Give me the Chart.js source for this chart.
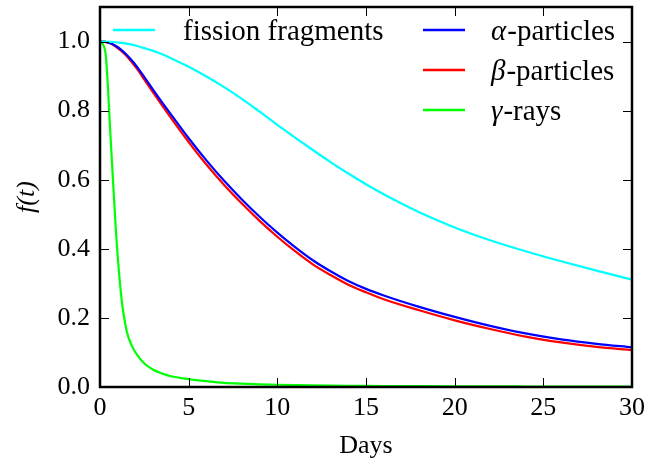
<!DOCTYPE html>
<html>
<head>
<meta charset="utf-8">
<script src="https://cdn.jsdelivr.net/npm/chart.js@4"></script>
<style>
  body { margin: 0; background: #fff; }
</style>
</head>
<body>
<canvas id="decay" width="660" height="463"></canvas>
<script>
// values
const days = [0, 0.3, 0.6, 0.9, 1.2, 1.5, 1.8, 2.1, 2.5, 3, 3.5, 4, 5, 6, 7, 8, 9, 10, 11, 12, 13, 14, 15, 16, 18, 20, 22, 24, 26, 28, 30];
const fission = [1.0, 1.0, 0.999, 0.998, 0.996, 0.994, 0.991, 0.987, 0.981, 0.973, 0.963, 0.952, 0.927, 0.899, 0.868, 0.834, 0.797, 0.759, 0.722, 0.686, 0.651, 0.618, 0.587, 0.558, 0.506, 0.462, 0.425, 0.393, 0.364, 0.337, 0.311];
const alpha = [1.0, 0.999, 0.995, 0.987, 0.976, 0.962, 0.945, 0.926, 0.897, 0.86, 0.824, 0.789, 0.72, 0.656, 0.597, 0.543, 0.493, 0.447, 0.405, 0.367, 0.335, 0.307, 0.284, 0.265, 0.232, 0.203, 0.177, 0.155, 0.138, 0.125, 0.115];
const beta = [1.0, 0.999, 0.994, 0.985, 0.973, 0.958, 0.94, 0.92, 0.89, 0.852, 0.815, 0.779, 0.709, 0.644, 0.585, 0.531, 0.481, 0.435, 0.393, 0.355, 0.324, 0.296, 0.274, 0.254, 0.222, 0.193, 0.168, 0.146, 0.129, 0.116, 0.107];
const gamma = [1.0, 0.97, 0.72, 0.45, 0.262, 0.163, 0.119, 0.092, 0.068, 0.05, 0.039, 0.031, 0.023, 0.017, 0.012, 0.0095, 0.0078, 0.0065, 0.0055, 0.0047, 0.0041, 0.0036, 0.0032, 0.0029, 0.0024, 0.002, 0.0017, 0.0015, 0.0013, 0.0011, 0.001];
const labels = ['fission fragments', 'α-particles', 'β-particles', 'γ-rays'];
const colors = ['#00ffff', '#0000ff', '#ff0000', '#00ff00'];
const xTicks = [0, 5, 10, 15, 20, 25, 30];
const yTicks = [0, 0.2, 0.4, 0.6, 0.8, 1.0];

const FONT = "'Liberation Serif', 'DejaVu Serif', serif";

function pts(vals) {
  return days.map((d, i) => ({ x: d, y: vals[i] }));
}

// inward ticks on all four sides plus the black frame
const framePlugin = {
  id: 'frame',
  afterDatasetsDraw(chart) {
    const { ctx, chartArea: a, scales } = chart;
    const len = 9;
    ctx.save();
    ctx.strokeStyle = '#000';
    ctx.lineWidth = 1;
    ctx.beginPath();
    xTicks.forEach(v => {
      const x = Math.round(scales.x.getPixelForValue(v)) + 0.5;
      ctx.moveTo(x, a.bottom); ctx.lineTo(x, a.bottom - len);
      ctx.moveTo(x, a.top); ctx.lineTo(x, a.top + len);
    });
    yTicks.forEach(v => {
      const y = Math.round(scales.y.getPixelForValue(v)) + 0.5;
      ctx.moveTo(a.left, y); ctx.lineTo(a.left + len, y);
      ctx.moveTo(a.right, y); ctx.lineTo(a.right - len, y);
    });
    ctx.stroke();
    ctx.lineWidth = 2.5;
    ctx.strokeRect(a.left, a.top, a.right - a.left, a.bottom - a.top);
    ctx.restore();
  }
};

// legend: one entry in the first column, three in the second, no box
const legendPlugin = {
  id: 'twoColLegend',
  afterDraw(chart) {
    const { ctx } = chart;
    const slots = [
      { lx: 113, tx: 183, y: 30 },
      { lx: 423, tx: 491, y: 30 },
      { lx: 423, tx: 491, y: 70 },
      { lx: 423, tx: 491, y: 110 }
    ];
    ctx.save();
    ctx.textBaseline = 'middle';
    chart.data.datasets.forEach((ds, i) => {
      const s = slots[i];
      ctx.strokeStyle = ds.borderColor;
      ctx.lineWidth = 2.5;
      ctx.beginPath();
      ctx.moveTo(s.lx, s.y);
      ctx.lineTo(s.lx + 42, s.y);
      ctx.stroke();
      ctx.fillStyle = '#000';
      let x = s.tx;
      let text = ds.label;
      if (/^[αβγ]/.test(text)) {
        ctx.font = 'italic 29px ' + FONT;
        ctx.fillText(text[0], x, s.y + 2);
        x += ctx.measureText(text[0]).width + 1;
        text = text.slice(1);
      }
      ctx.font = '29px ' + FONT;
      ctx.fillText(text, x, s.y + 2);
    });
    ctx.restore();
  }
};

const datasets = [fission, alpha, beta, gamma].map((vals, i) => ({
  label: labels[i],
  data: pts(vals),
  borderColor: colors[i],
  backgroundColor: colors[i],
  borderWidth: 2.2,
  pointRadius: 0,
  fill: false,
  cubicInterpolationMode: 'monotone'
}));

new Chart(document.getElementById('decay'), {
  type: 'line',
  data: { datasets },
  options: {
    responsive: false,
    animation: false,
    devicePixelRatio: 1,
    layout: { padding: { top: 7, right: 28, left: 0, bottom: 0 } },
    plugins: { legend: { display: false }, tooltip: { enabled: false } },
    scales: {
      x: {
        type: 'linear',
        min: 0,
        max: 30,
        afterBuildTicks: s => { s.ticks = xTicks.map(v => ({ value: v })); },
        afterFit: s => { s.height = 76; },
        grid: { display: false, drawTicks: false },
        border: { display: false },
        ticks: { padding: 6, color: '#000', font: { family: FONT, size: 26 } },
        title: {
          display: true,
          text: 'Days',
          color: '#000',
          font: { family: FONT, size: 26 },
          padding: { top: 0, bottom: 1 }
        }
      },
      y: {
        type: 'linear',
        min: 0,
        max: 1.1,
        afterBuildTicks: s => { s.ticks = yTicks.map(v => ({ value: v })); },
        afterFit: s => { s.width = 100; s.paddingTop = 0; s.paddingBottom = 0; },
        grid: { display: false, drawTicks: false },
        border: { display: false },
        ticks: {
          padding: 10,
          color: '#000',
          font: { family: FONT, size: 26 },
          callback: v => v.toFixed(1)
        },
        title: {
          display: true,
          text: 'f(t)',
          color: '#000',
          font: { family: FONT, size: 26, style: 'italic' },
          padding: { top: 12, bottom: 0 }
        }
      }
    }
  },
  plugins: [framePlugin, legendPlugin]
});
</script>
</body>
</html>
